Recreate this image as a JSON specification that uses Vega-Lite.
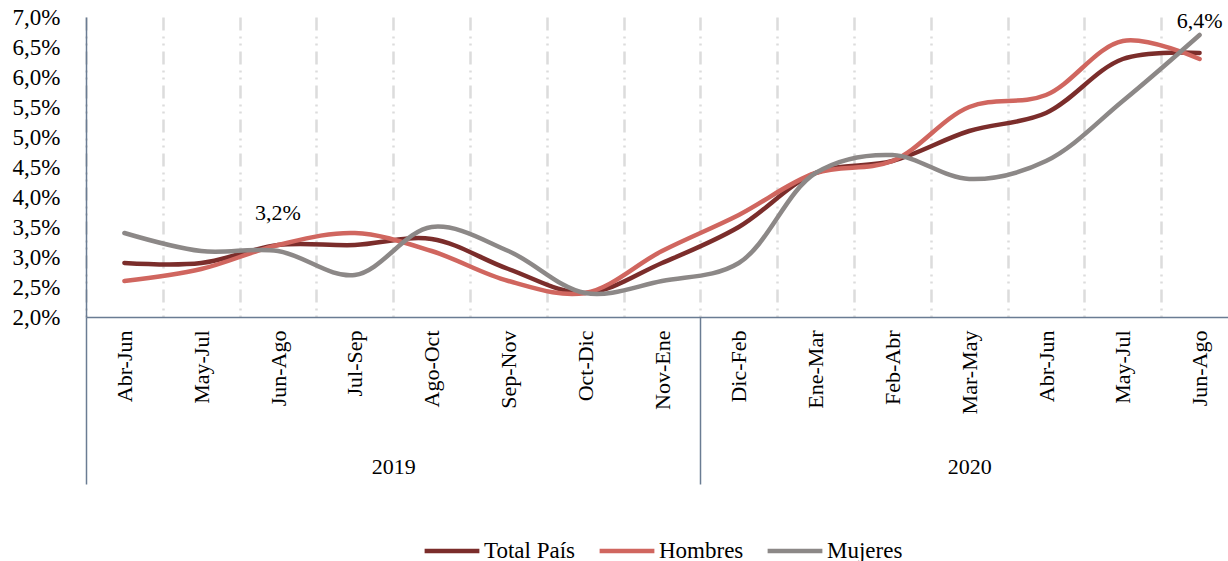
{
  "$schema": "https://vega.github.io/schema/vega-lite/v6.json",
  "width": 1152,
  "height": 300,
  "autosize": {"type": "pad"},
  "padding": {"left": 12, "top": 6, "right": 0, "bottom": 0},
  "background": "white",
  "config": {
    "font": "Liberation Serif",
    "view": {"stroke": null},
    "legend": {"layout": {"bottom": {"anchor": "middle"}}},
    "locale": {"number": {"decimal": ",", "thousands": ".", "grouping": [3], "currency": ["", " €"]}}
  },
  "data": {
    "values": [
      {"p": "2019|Abr-Jun", "Total País": 0.029, "Hombres": 0.026, "Mujeres": 0.034},
      {"p": "2019|May-Jul", "Total País": 0.029, "Hombres": 0.028, "Mujeres": 0.031},
      {"p": "2019|Jun-Ago", "Total País": 0.032, "Hombres": 0.032, "Mujeres": 0.031},
      {"p": "2019|Jul-Sep", "Total País": 0.032, "Hombres": 0.034, "Mujeres": 0.027},
      {"p": "2019|Ago-Oct", "Total País": 0.033, "Hombres": 0.031, "Mujeres": 0.035},
      {"p": "2019|Sep-Nov", "Total País": 0.028, "Hombres": 0.026, "Mujeres": 0.031},
      {"p": "2019|Oct-Dic", "Total País": 0.024, "Hombres": 0.024, "Mujeres": 0.024},
      {"p": "2019|Nov-Ene", "Total País": 0.029, "Hombres": 0.031, "Mujeres": 0.026},
      {"p": "2020|Dic-Feb", "Total País": 0.035, "Hombres": 0.037, "Mujeres": 0.029},
      {"p": "2020|Ene-Mar", "Total País": 0.044, "Hombres": 0.044, "Mujeres": 0.044},
      {"p": "2020|Feb-Abr", "Total País": 0.046, "Hombres": 0.046, "Mujeres": 0.047},
      {"p": "2020|Mar-May", "Total País": 0.051, "Hombres": 0.055, "Mujeres": 0.043},
      {"p": "2020|Abr-Jun", "Total País": 0.054, "Hombres": 0.057, "Mujeres": 0.046},
      {"p": "2020|May-Jul", "Total País": 0.063, "Hombres": 0.066, "Mujeres": 0.056},
      {"p": "2020|Jun-Ago", "Total País": 0.064, "Hombres": 0.063, "Mujeres": 0.067}
    ]
  },
  "layer": [
    {
      "transform": [{"fold": ["Total País", "Hombres", "Mujeres"], "as": ["serie", "valor"]}],
      "encoding": {
        "x": {
          "field": "p", "type": "nominal", "sort": null,
          "scale": {"type": "band", "paddingInner": 0, "paddingOuter": 0},
          "axis": {
            "title": null, "labelAngle": -90, "labelExpr": "split(datum.value, '|')[1]",
            "ticks": false, "tickBand": "extent", "grid": true, "gridDash": [13, 6, 2, 5, 2, 6],
            "gridColor": "#dcdcdc", "gridWidth": 2.5,
            "domainColor": "#6A7C93", "domainWidth": 1.5,
            "labelFontSize": 22, "labelColor": "#000", "labelPadding": 13
          }
        },
        "y": {
          "field": "valor", "type": "quantitative",
          "scale": {"domain": [0.02, 0.07], "nice": false, "zero": false},
          "axis": {
            "title": null, "format": ".1%", "values": [0.02, 0.025, 0.03, 0.035, 0.04, 0.045, 0.05, 0.055, 0.06, 0.065, 0.07],
            "labelOverlap": false,
            "grid": false, "ticks": false, "domainColor": "#6A7C93", "domainWidth": 1.5,
            "labelFontSize": 23, "labelColor": "#000", "labelPadding": 26
          }
        }
      },
      "layer": [
        {
          "mark": {"type": "line", "interpolate": "catmull-rom", "strokeWidth": 4.5, "strokeCap": "round"},
          "encoding": {
            "color": {
              "field": "serie", "type": "nominal",
              "scale": {"domain": ["Total País", "Hombres", "Mujeres"], "range": ["#7B2D2B", "#D0665F", "#8C8887"]},
              "legend": {
                "orient": "bottom", "direction": "horizontal", "title": null,
                "symbolType": "stroke", "symbolStrokeWidth": 4.5, "symbolSize": 3000, "symbolOpacity": 1,
                "labelFontSize": 23, "labelColor": "#000", "columnPadding": 14, "labelOffset": 2, "offset": 36
              }
            }
          }
        },
        {
          "transform": [
            {"filter": "datum.serie == 'Total País' && (datum.p == '2019|Jun-Ago' || datum.p == '2020|Jun-Ago')"}
          ],
          "mark": {"type": "text", "dy": -32, "fontSize": 22, "color": "#000"},
          "encoding": {
            "text": {"field": "valor", "type": "quantitative", "format": ".1%"}
          }
        }
      ]
    },
    {
      "data": {"values": [{"pos": 4, "year": "2019"}, {"pos": 11.5, "year": "2020"}]},
      "mark": {"type": "text", "opacity": 0},
      "encoding": {
        "x": {
          "field": "pos", "type": "quantitative",
          "scale": {"domain": [0, 15], "nice": false, "zero": false},
          "axis": {
            "orient": "bottom", "title": null, "values": [0, 4, 8, 11.5],
            "labelExpr": "datum.value == 4 ? '2019' : datum.value == 11.5 ? '2020' : ''",
            "tickSize": 167, "tickColor": "#6A7C93", "tickWidth": 1.5,
            "tickOpacity": {"condition": {"test": "datum.value == 4 || datum.value == 11.5", "value": 0}, "value": 1},
            "domain": false, "grid": false, "labelPadding": -28,
            "labelFontSize": 22, "labelColor": "#000", "labelFlush": false
          }
        },
        "text": {"field": "year"}
      }
    }
  ],
  "resolve": {"scale": {"x": "independent"}, "axis": {"x": "independent"}}
}
